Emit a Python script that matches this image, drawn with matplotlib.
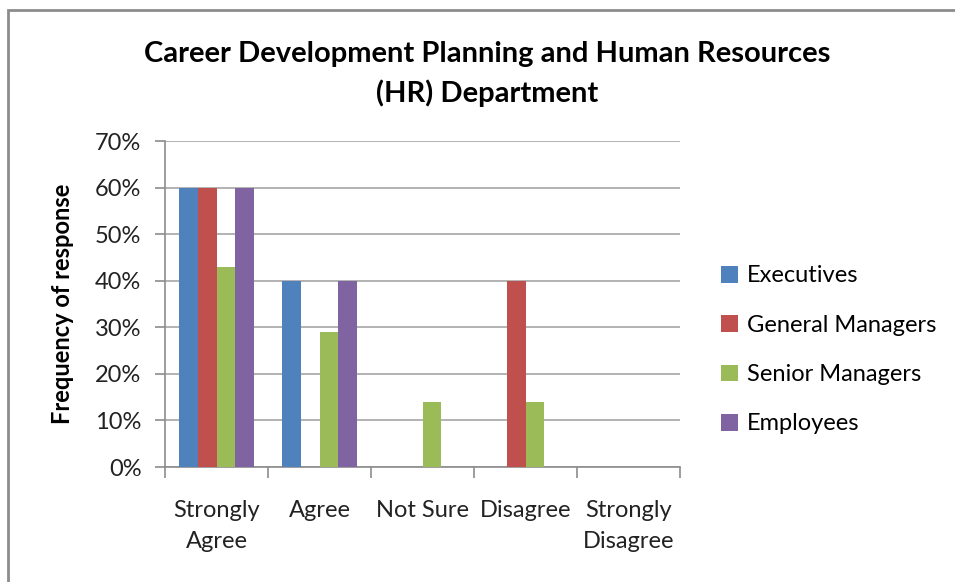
import numpy as np
import matplotlib.pyplot as plt
from matplotlib.patches import Rectangle

plt.rcParams['font.family'] = ['Lato', 'DejaVu Sans']

# Data (percent)
categories = ['Strongly\nAgree', 'Agree', 'Not Sure', 'Disagree', 'Strongly\nDisagree']
series_names = ['Executives', 'General Managers', 'Senior Managers', 'Employees']
executives = [60, 40, 0, 0, 0]
general_managers = [60, 0, 0, 40, 0]
senior_managers = [43, 29, 14, 14, 0]
employees = [60, 40, 0, 0, 0]
colors = ['#4F81BD', '#C0504D', '#9BBB59', '#8064A2']

fig = plt.figure(figsize=(9.55, 5.82), dpi=100)
ax = fig.add_axes([165 / 955, 1 - 467 / 582, (680 - 165) / 955, (467 - 141) / 582])

# outer chart border (only left and top edges are visible in the crop)
fig.patches.append(Rectangle((8 / 955, -0.1), 1.2, 1 - 10 / 582 + 0.1, transform=fig.transFigure,
                             fill=False, edgecolor='#8c8c8c', linewidth=2))

x = np.arange(len(categories))
width = 1 / 5.5
all_series = [executives, general_managers, senior_managers, employees]
for i, (vals, name, c) in enumerate(zip(all_series, series_names, colors)):
    ax.bar(x + (i - 1.5) * width, vals, width, color=c, label=name, zorder=3)

ax.set_xlim(-0.5, len(categories) - 0.5)
ax.set_ylim(0, 70)
ax.set_yticks(range(0, 71, 10))
ax.set_yticklabels([f'{v}%' for v in range(0, 71, 10)], fontsize=17, color='#222222')
ax.yaxis.grid(True, color='#a6a6a6', linewidth=1.2, zorder=0)

ax.set_xticks(x)
ax.set_xticklabels(categories, fontsize=17, color='#222222', linespacing=1.55)
ax.set_xticks(np.arange(-0.5, len(categories)), minor=True)
ax.tick_params(axis='x', which='major', length=0, pad=24)
ax.tick_params(axis='x', which='minor', length=8, color='#8c8c8c', width=1.2)
ax.tick_params(axis='y', length=7, color='#8c8c8c', width=1.2, pad=10)

for side in ['top', 'right']:
    ax.spines[side].set_visible(False)
for side in ['left', 'bottom']:
    ax.spines[side].set_color('#8c8c8c')
    ax.spines[side].set_linewidth(1.2)

ax.set_ylabel('Frequency of response', fontsize=17, fontweight='bold', labelpad=15)

fig.text(487 / 955, 1 - 74 / 582, 'Career Development Planning and Human Resources\n(HR) Department',
         ha='center', va='center', fontsize=21, fontweight='bold', linespacing=1.55)

ax.legend(loc='center left', bbox_to_anchor=(700 / 955, 1 - 350 / 582), bbox_transform=fig.transFigure,
          frameon=False, fontsize=17, handlelength=0.7, handleheight=0.7, handletextpad=0.4,
          labelspacing=1.2)

fig.savefig('out.png', dpi=100)
